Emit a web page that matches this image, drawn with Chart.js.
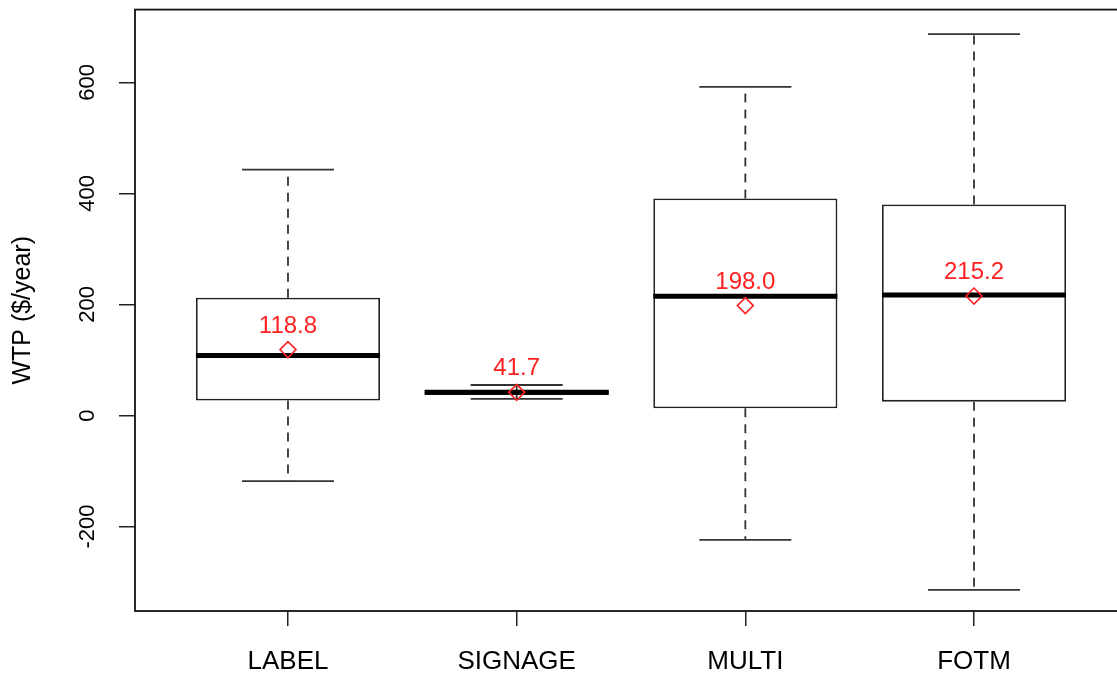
<!DOCTYPE html>
<html>
<head>
<meta charset="utf-8">
<script src="https://cdn.jsdelivr.net/npm/chart.js@4"></script>
<style>
  html, body { margin: 0; padding: 0; background: #fff; overflow: hidden; }
  #wrap { width: 1140px; height: 674px; }
</style>
</head>
<body>
<div id="wrap"><canvas id="c" width="1140" height="674"></canvas></div>
<script>
// ---- data ----
const categories = ['LABEL', 'SIGNAGE', 'MULTI', 'FOTM'];
const positions = [1, 2, 3, 4];
const whiskerLow = [-118, 30, -224, -314];
const q1 = [27, 37, 13, 25];
const medians = [108, 42, 215, 217];
const q3 = [212, 46, 391, 380];
const whiskerHigh = [443, 55, 592, 687];
const means = [118.8, 41.7, 198.0, 215.2];
const yTicks = [-200, 0, 200, 400, 600];
const yTitle = 'WTP ($/year)';

const FONT = "'Liberation Sans', Arial, Helvetica, sans-serif";

const boxPlugin = {
  id: 'boxParts',
  afterDatasetDraw(chart, args) {
    if (args.index !== 0) return;
    const ctx = chart.ctx;
    const xs = chart.scales.x, ys = chart.scales.y;
    const meta = chart.getDatasetMeta(0);
    ctx.save();
    positions.forEach((p, i) => {
      const cx = xs.getPixelForValue(p);
      const bar = meta.data[i];
      const half = bar.width / 2;
      // whiskers (dashed)
      ctx.setLineDash([9, 7]);
      ctx.strokeStyle = '#333';
      ctx.lineWidth = 1.8;
      ctx.beginPath();
      ctx.moveTo(cx, ys.getPixelForValue(q3[i]));
      ctx.lineTo(cx, ys.getPixelForValue(whiskerHigh[i]));
      ctx.moveTo(cx, ys.getPixelForValue(q1[i]));
      ctx.lineTo(cx, ys.getPixelForValue(whiskerLow[i]));
      ctx.stroke();
      // caps
      ctx.setLineDash([]);
      ctx.strokeStyle = '#333';
      ctx.beginPath();
      [whiskerHigh[i], whiskerLow[i]].forEach(v => {
        const y = ys.getPixelForValue(v);
        ctx.moveTo(cx - half / 2, y);
        ctx.lineTo(cx + half / 2, y);
      });
      ctx.stroke();
      // median
      ctx.strokeStyle = '#000';
      ctx.lineWidth = 5;
      ctx.beginPath();
      const my = ys.getPixelForValue(medians[i]);
      ctx.moveTo(cx - half, my);
      ctx.lineTo(cx + half, my);
      ctx.stroke();
    });
    ctx.restore();
  },
  afterDraw(chart) {
    const ctx = chart.ctx;
    const xs = chart.scales.x, ys = chart.scales.y;
    const a = chart.chartArea;
    ctx.save();
    // frame
    ctx.strokeStyle = '#111';
    ctx.lineWidth = 1.8;
    ctx.strokeRect(a.left, a.top, a.right - a.left, a.bottom - a.top);
    // mean labels
    ctx.fillStyle = '#ff2020';
    ctx.font = '24px ' + FONT;
    ctx.textAlign = 'center';
    ctx.textBaseline = 'alphabetic';
    positions.forEach((p, i) => {
      const cx = xs.getPixelForValue(p);
      const cy = ys.getPixelForValue(means[i]);
      ctx.fillText(means[i].toFixed(1), cx, cy - 17);
    });
    // y tick labels (rotated)
    ctx.fillStyle = '#000';
    ctx.font = '22px ' + FONT;
    ctx.textBaseline = 'middle';
    yTicks.forEach(v => {
      const y = ys.getPixelForValue(v);
      ctx.save();
      ctx.translate(88, y);
      ctx.rotate(-Math.PI / 2);
      ctx.fillText(String(v), 0, 0);
      ctx.restore();
    });
    // y title
    ctx.font = '25px ' + FONT;
    ctx.save();
    ctx.translate(23, (a.top + a.bottom) / 2);
    ctx.rotate(-Math.PI / 2);
    ctx.fillText(yTitle, 0, 0);
    ctx.restore();
    ctx.restore();
  }
};

new Chart(document.getElementById('c'), {
  type: 'bar',
  data: {
    datasets: [
      {
        type: 'bar',
        order: 2,
        data: positions.map((p, i) => ({ x: p, y: [q1[i], q3[i]] })),
        backgroundColor: '#ffffff',
        borderColor: '#222',
        borderWidth: 1.8,
        borderSkipped: false,
        barPercentage: 0.805,
        categoryPercentage: 1.0
      },
      {
        type: 'scatter',
        order: 1,
        data: positions.map((p, i) => ({ x: p, y: means[i] })),
        pointStyle: 'rectRot',
        radius: 8,
        borderColor: '#ff2020',
        backgroundColor: 'rgba(0,0,0,0)',
        borderWidth: 1.6
      }
    ]
  },
  options: {
    responsive: false,
    animation: false,
    events: [],
    layout: { padding: { top: 9, right: 13, left: 0, bottom: 0 } },
    plugins: { legend: { display: false }, tooltip: { enabled: false }, title: { display: false } },
    scales: {
      x: {
        type: 'linear',
        offset: false,
        min: 0.331,
        max: 4.669,
        afterBuildTicks: s => { s.ticks = positions.map(v => ({ value: v })); },
        afterFit: s => { s.height = 63; },
        ticks: {
          callback: v => categories[positions.indexOf(v)] || '',
          color: '#000',
          font: { family: FONT, size: 26 },
          padding: 20,
          maxRotation: 0,
          autoSkip: false
        },
        grid: { offset: false, drawOnChartArea: false, drawTicks: true, tickLength: 15, color: '#222', lineWidth: 1.5 },
        border: { display: false }
      },
      y: {
        min: -352,
        max: 731,
        afterBuildTicks: s => { s.ticks = yTicks.map(v => ({ value: v })); },
        afterFit: s => { s.width = 135; },
        ticks: { display: false },
        grid: { drawOnChartArea: false, drawTicks: true, tickLength: 16, color: '#222', lineWidth: 1.5 },
        border: { display: false }
      }
    }
  },
  plugins: [boxPlugin]
});
</script>
</body>
</html>
